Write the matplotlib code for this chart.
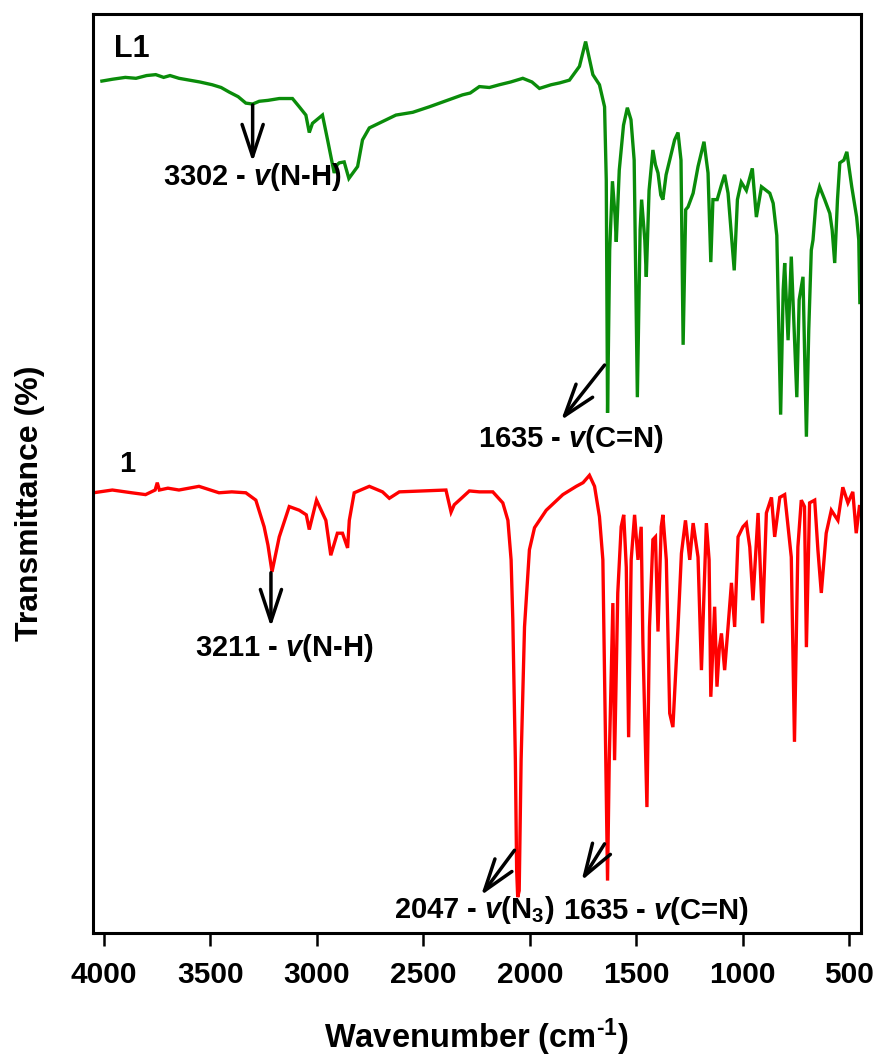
import matplotlib
matplotlib.use("Agg")
import matplotlib.pyplot as plt

plt.rcParams['font.family'] = ['Liberation Sans', 'DejaVu Sans']
plt.rcParams['font.weight'] = 'bold'
plt.rcParams['mathtext.fontset'] = 'custom'
plt.rcParams['mathtext.rm'] = 'Liberation Sans:bold'
plt.rcParams['mathtext.it'] = 'Liberation Sans:italic:bold'
plt.rcParams['mathtext.bf'] = 'Liberation Sans:bold'

# ---- data (wavenumber in cm-1, transmittance in arbitrary offset %) ----
l1_wn = [4010, 3960, 3900, 3850, 3800, 3757, 3720, 3690, 3648, 3600, 3550, 3492, 3450, 3412,
         3370, 3334, 3302, 3271, 3230, 3177, 3115, 3083, 3052, 3036,
         3021, 2974, 2950, 2919, 2905, 2895, 2872, 2850, 2809, 2786, 2754, 2700, 2629, 2550,
         2472, 2400, 2316, 2280, 2237, 2190, 2143, 2090, 2033, 1990, 1955, 1900, 1860, 1814,
         1767, 1738, 1704, 1673, 1649, 1641, 1635, 1625, 1612,
         1600, 1594, 1580, 1560, 1542, 1525, 1510, 1495, 1482, 1475, 1460, 1453, 1440, 1422,
         1410, 1398, 1385, 1375, 1360, 1343, 1320, 1304, 1290, 1280, 1268, 1257, 1233, 1210,
         1182, 1163, 1150, 1140, 1120, 1100, 1085, 1069, 1040, 1025, 1007, 983, 955, 936, 912,
         873, 857, 840, 822, 810, 803, 787, 772, 757, 746, 735, 717, 701, 690, 678, 670, 655,
         639, 615, 591, 580, 568, 555, 544, 525, 511, 488, 465, 455, 450]
l1_t = [92.7, 92.9, 93.1, 93.0, 93.3, 93.4, 93.1, 93.3, 93.0, 92.8, 92.6, 92.3, 92.0, 91.5,
        91.0, 90.3, 90.2, 90.5, 90.6, 90.8, 90.8, 89.9, 89.0, 87.1,
        88.1, 89.0, 86.3, 82.7, 83.6, 83.8, 83.9, 82.1, 83.4, 86.3, 87.6, 88.2, 89.0, 89.3,
        89.9, 90.5, 91.2, 91.4, 92.1, 92.0, 92.3, 92.6, 93.0, 92.6, 91.9, 92.3, 92.5, 92.8,
        94.3, 97.0, 93.4, 92.3, 89.9, 81.9, 56.6, 74.3, 81.8,
        78.1, 75.2, 83.0, 87.9, 89.8, 88.5, 84.1, 58.3, 76.5, 79.8, 75.4, 71.4, 80.8, 85.2,
        83.6, 82.7, 80.3, 79.8, 82.5, 84.1, 86.3, 87.1, 84.1, 64.0, 78.7, 79.0, 80.5, 83.4,
        86.1, 82.7, 73.0, 79.8, 79.8, 81.4, 82.5, 80.5, 72.1, 79.8, 81.7, 80.8, 83.2, 77.9, 81.2,
        80.5, 79.4, 75.9, 56.4, 70.0, 72.9, 64.5, 73.6, 64.9, 58.3, 68.9, 71.4, 54.0, 65.6, 74.3,
        75.4, 79.8, 81.2, 79.8, 78.3, 76.5, 72.9, 79.8, 83.8, 84.1, 85.0, 81.2, 77.9, 75.4, 68.6]

c1_wn = [4050, 3961, 3870, 3805, 3760, 3750, 3740, 3700, 3648, 3554, 3460, 3400, 3334, 3287,
         3248, 3230, 3211, 3195, 3177, 3130, 3083, 3050, 3036, 3002, 2958, 2935, 2904, 2880,
         2856, 2848, 2825, 2754, 2692, 2660, 2613, 2500, 2394, 2370, 2355, 2331, 2284, 2237,
         2174, 2127, 2103, 2088, 2080, 2068, 2062, 2057, 2050, 2041, 2025, 2002, 1978, 1923,
         1845, 1782, 1750, 1720, 1696, 1673, 1657, 1649, 1635, 1627, 1610, 1602, 1587, 1571,
         1559, 1547, 1536, 1524, 1508, 1492, 1477, 1469, 1450, 1438, 1422, 1410, 1398, 1383,
         1375, 1359, 1343, 1328, 1304, 1288, 1269, 1249, 1233, 1210, 1194, 1171, 1158, 1150,
         1132, 1121, 1110, 1100, 1085, 1075, 1069, 1053, 1038, 1022, 999, 983, 967, 952, 928,
         907, 889, 865, 850, 826, 803, 772, 757, 741, 725, 710, 701, 686, 662, 647, 631, 608,
         584, 553, 530, 506, 483, 467, 452]
c1_t = [47.9, 48.2, 47.9, 47.7, 48.2, 49.0, 48.2, 48.4, 48.2, 48.6, 47.9, 48.0, 47.9, 47.1,
        44.2, 42.2, 39.3, 41.1, 43.1, 46.4, 46.0, 45.5, 43.9, 47.1, 44.9, 41.1, 43.5, 43.5,
        41.9, 44.9, 47.9, 48.6, 48.0, 47.3, 48.0, 48.1, 48.2, 45.8, 46.6, 47.1, 48.1, 48.0,
        48.0, 46.8, 44.9, 40.6, 34.1, 18.8, 6.9, 3.9, 4.6, 18.8, 33.3, 41.7, 44.1, 46.0,
        47.7, 48.6, 49.0, 49.8, 48.6, 45.3, 40.6, 27.9, 5.7, 18.8, 35.9, 18.8, 37.0, 44.2,
        45.5, 39.8, 21.3, 40.6, 45.5, 40.6, 44.2, 31.6, 13.7, 33.3, 42.8, 43.1, 32.8, 44.2,
        45.5, 40.6, 23.9, 22.4, 33.3, 41.3, 44.9, 40.6, 44.6, 40.9, 28.6, 44.6, 40.6, 25.7,
        35.5, 26.8, 31.0, 32.6, 28.6, 31.5, 33.3, 38.1, 33.3, 43.1, 44.2, 44.6, 42.0, 36.2, 45.7,
        33.7, 45.7, 47.4, 43.1, 47.4, 47.7, 40.9, 20.8, 42.0, 47.1, 46.4, 31.1, 46.8, 47.1, 41.7,
        37.0, 43.5, 46.0, 44.9, 48.5, 46.8, 48.0, 43.5, 46.4]

x_ticks = [4000, 3500, 3000, 2500, 2000, 1500, 1000, 500]
series_labels = ['L1', '1']

fig = plt.figure(figsize=(8.77, 10.59), dpi=100)
ax = fig.add_axes([0.106, 0.119, 0.8754, 0.8678])

ax.plot(l1_wn, l1_t, color='#0a8c0a', lw=2.4, solid_joinstyle='miter')
ax.plot(c1_wn, c1_t, color='#ff0000', lw=2.4, solid_joinstyle='miter')

ax.set_xlim(4052, 446)
ax.set_ylim(0, 100)
ax.set_xticks(x_ticks)
ax.set_xticklabels([str(t) for t in x_ticks])
ax.set_yticks([])
ax.tick_params(axis='x', direction='out', length=9.5, width=1.8, labelsize=21.5, pad=11)
for s in ax.spines.values():
    s.set_linewidth(2.2)

ax.set_xlabel(r'Wavenumber (cm$^{\text{-1}}$)', fontsize=23.5, fontweight='bold', va='center')
ax.xaxis.set_label_coords(0.5, -0.113)
ax.set_ylabel('Transmittance (%)', fontsize=23, fontweight='bold', va='center')
ax.yaxis.set_label_coords(-0.082, 0.468)

# series labels
ax.text(3953, 96.2, series_labels[0], fontsize=22, fontweight='bold', ha='left', va='center')
ax.text(3930, 51.0, series_labels[1], fontsize=21, fontweight='bold', ha='left', va='center')

arrow = dict(arrowstyle='->,head_length=1.15,head_width=0.38', lw=2.5, color='black',
             mutation_scale=20, shrinkA=0, shrinkB=0)

# annotations: arrows and labels
fs_ann = 21
ax.annotate('', xy=(3302, 83.9), xytext=(3302, 90.1), arrowprops=arrow)
ax.text(3304, 82.3, r'3302 - $v$(N-H)', fontsize=fs_ann, fontweight='bold', ha='center', va='center')

ax.annotate('', xy=(1853, 55.8), xytext=(1649, 61.8), arrowprops=arrow)
ax.text(1805, 53.8, r'1635 - $v$(C=N)', fontsize=fs_ann, fontweight='bold', ha='center', va='center')

ax.annotate('', xy=(3216, 33.3), xytext=(3216, 39.2), arrowprops=arrow)
ax.text(3154, 31.0, r'3211 - $v$(N-H)', fontsize=fs_ann, fontweight='bold', ha='center', va='center')

ax.annotate('', xy=(2229, 4.1), xytext=(2072, 9.0), arrowprops=arrow)
ax.text(2262, 2.5, r'2047 - $v$(N$_3$)', fontsize=fs_ann, fontweight='bold', ha='center', va='center')

ax.annotate('', xy=(1757, 5.7), xytext=(1649, 9.7), arrowprops=arrow)
ax.text(1410, 2.4, r'1635 - $v$(C=N)', fontsize=fs_ann, fontweight='bold', ha='center', va='center')

fig.savefig('out.png', dpi=100)
